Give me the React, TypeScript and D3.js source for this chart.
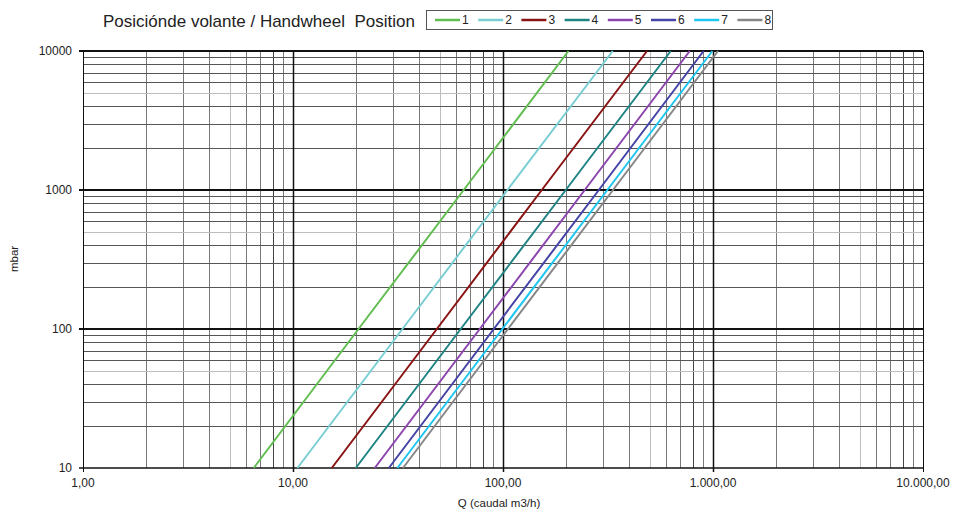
import React from "react";
import * as d3 from "d3";

// Handwheel positions (series)
const positions = ["1", "2", "3", "4", "5", "6", "7", "8"];
const colors = ["#63be52", "#79ced3", "#8a1414", "#208484", "#8c45ad", "#4444a6", "#1ec6f0", "#878787"];
// Pressure points (mbar) at which flows were read
const pressures = [10, 100, 1000, 10000];
// Flow (m3/h) read at each pressure, per position
const flow1 = [6.5, 20.5, 65, 205];
const flow2 = [10.5, 33.2, 105, 333];
const flow3 = [15.3, 48.4, 153, 485];
const flow4 = [19.9, 62.9, 199, 629];
const flow5 = [24.5, 77.5, 245, 775];
const flow6 = [28.6, 90.4, 286, 902];
const flow7 = [31.4, 99.3, 314, 993];
const flow8 = [33.4, 105.6, 334, 1056];
const flows = [flow1, flow2, flow3, flow4, flow5, flow6, flow7, flow8];

const xTickValues = [1, 10, 100, 1000, 10000];
const xTickLabels = ["1,00", "10,00", "100,00", "1.000,00", "10.000,00"];
const yTickValues = [10, 100, 1000, 10000];
const yTickLabels = ["10", "100", "1000", "10000"];

const W = 953;
const H = 513;
const left = 83;
const right = 923;
const top = 51;
const bottom = 468;
const FONT = "'Liberation Sans', Arial, Helvetica, sans-serif";

export default function App() {
  const x = d3.scaleLog().domain([1, 10000]).range([left, right]);
  const y = d3.scaleLog().domain([10, 10000]).range([bottom, top]);

  const minorX: number[] = [];
  for (let d = 1; d < 10000; d *= 10) for (let m = 2; m <= 9; m++) minorX.push(d * m);
  const minorY: number[] = [];
  for (let d = 10; d < 10000; d *= 10) for (let m = 2; m <= 9; m++) minorY.push(d * m);

  const line = d3
    .line<[number, number]>()
    .x((d) => x(d[0]))
    .y((d) => y(d[1]));

  const multOf = (v: number) => Math.round(v / Math.pow(10, Math.floor(Math.log10(v) + 1e-9)));

  return (
    <svg
      width={W}
      height={H}
      style={{ position: "absolute", left: 0, top: 0, background: "#fff" }}
      fontFamily={FONT}
    >
      <rect x={0} y={0} width={W} height={H} fill="#fff" />
      {/* minor vertical grid */}
      {minorX.map((v) => {
        const m = multOf(v);
        return (
          <line
            key={"mx" + v}
            x1={Math.round(x(v)) + 0.5}
            x2={Math.round(x(v)) + 0.5}
            y1={top}
            y2={bottom}
            stroke={m === 5 ? "#bdbdbd" : m === 8 ? "#444" : "#7a7a7a"}
            strokeWidth={1}
          />
        );
      })}
      {/* minor horizontal grid */}
      {minorY.map((v) => {
        const m = multOf(v);
        return (
          <line
            key={"my" + v}
            x1={left}
            x2={right}
            y1={Math.round(y(v)) + 0.5}
            y2={Math.round(y(v)) + 0.5}
            stroke={m === 5 ? "#bdbdbd" : "#555"}
            strokeWidth={1}
          />
        );
      })}
      {/* major vertical grid */}
      {xTickValues.map((v) => (
        <line
          key={"Mx" + v}
          x1={Math.round(x(v)) + 0.5}
          x2={Math.round(x(v)) + 0.5}
          y1={top}
          y2={bottom + 4}
          stroke="#111"
          strokeWidth={v === 1 || v === 10000 ? 1 : 1.5}
        />
      ))}
      {/* major horizontal grid */}
      {yTickValues.map((v) => (
        <line
          key={"My" + v}
          x1={left - 4}
          x2={right}
          y1={Math.round(y(v))}
          y2={Math.round(y(v))}
          stroke="#111"
          strokeWidth={v === 10 ? 1.5 : 2}
        />
      ))}

      {/* series */}
      {flows.map((f, i) => (
        <path
          key={"s" + i}
          d={line(f.map((q, j) => [q, pressures[j]] as [number, number])) || ""}
          fill="none"
          stroke={colors[i]}
          strokeWidth={2}
        />
      ))}

      {/* y tick labels */}
      {yTickValues.map((v, i) => (
        <text
          key={"yl" + v}
          x={left - 11}
          y={y(v)}
          dy="0.35em"
          textAnchor="end"
          fontSize={12}
          fill="#222"
        >
          {yTickLabels[i]}
        </text>
      ))}
      {/* x tick labels */}
      {xTickValues.map((v, i) => (
        <text
          key={"xl" + v}
          x={x(v)}
          y={487}
          textAnchor="middle"
          fontSize={12}
          fill="#222"
        >
          {xTickLabels[i]}
        </text>
      ))}
      <text x={499} y={507} textAnchor="middle" fontSize={11.5} fill="#222">
        Q (caudal m3/h)
      </text>
      <text
        transform={`translate(18,${259}) rotate(-90)`}
        textAnchor="middle"
        fontSize={11.5}
        fill="#222"
      >
        mbar
      </text>

      {/* title */}
      <text x={103} y={27} fontSize={17} fill="#222" style={{ whiteSpace: "pre" }}>
        {"Posiciónde volante / Handwheel  Position"}
      </text>

      {/* legend */}
      <rect x={426.5} y={10.5} width={346} height={19} fill="#fff" stroke="#555" strokeWidth={1} />
      {positions.map((p, i) => {
        const lx = 435 + i * 43.2;
        return (
          <g key={"lg" + p}>
            <line x1={lx} x2={lx + 25} y1={20} y2={20} stroke={colors[i]} strokeWidth={2.5} />
            <text x={lx + 27} y={20} dy="0.35em" fontSize={12} fill="#222">
              {p}
            </text>
          </g>
        );
      })}
    </svg>
  );
}
